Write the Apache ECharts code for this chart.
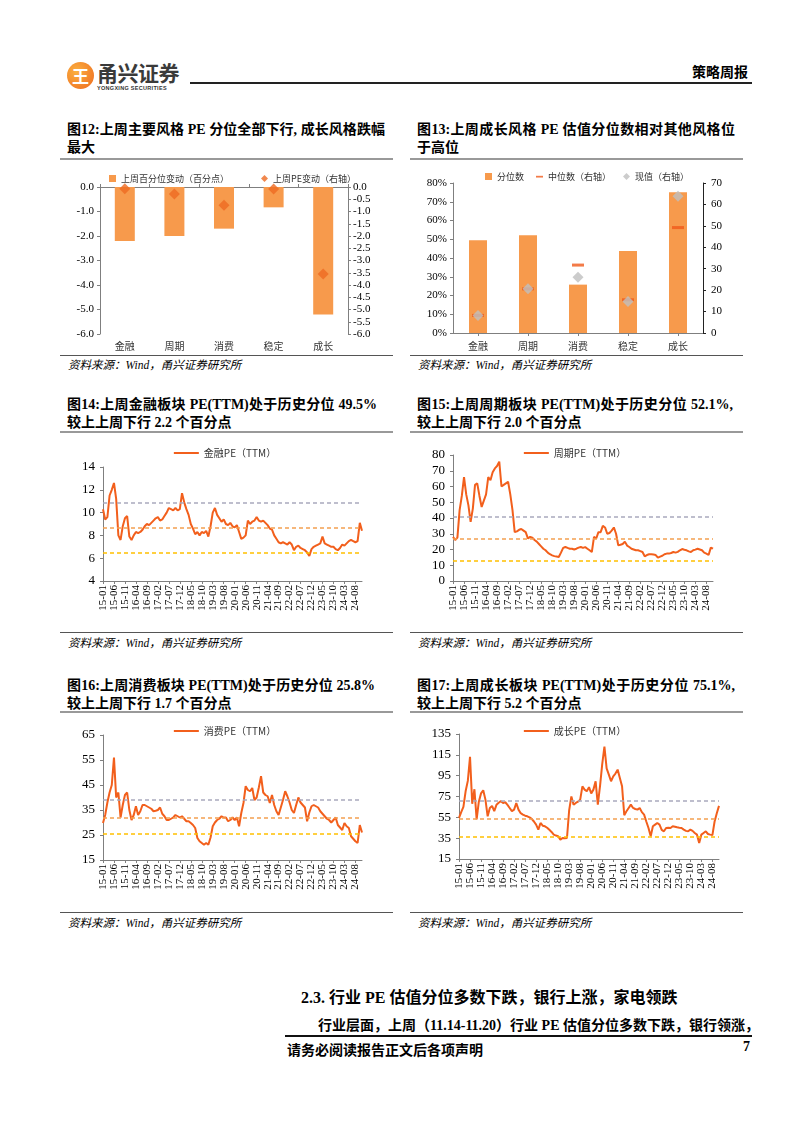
<!DOCTYPE html>
<html><head><meta charset="utf-8">
<script src="https://cdn.jsdelivr.net/npm/echarts@6/dist/echarts.min.js"></script>
<style>
html,body{margin:0;padding:0;background:#fff;}
body{width:802px;height:1133px;position:relative;overflow:hidden;font-family:"Liberation Serif","Noto Sans CJK SC",serif;color:#000;}
.a{position:absolute;}
.t{position:absolute;font-size:14px;font-weight:bold;line-height:18px;white-space:nowrap;}
.j{text-align:justify;text-align-last:justify;white-space:normal;}
.src{position:absolute;font-size:11.5px;font-style:italic;white-space:nowrap;}
.ln{position:absolute;}
.ch{position:absolute;}
</style></head><body>
<!-- header -->
<div class="a" style="left:67px;top:62px;width:27px;height:27px;border-radius:50%;background:radial-gradient(circle at 35% 35%,#FBB040,#EE6A1E);"></div>
<div class="a" style="left:67px;top:62px;width:27px;height:27px;line-height:27px;text-align:center;color:#fff;font-weight:bold;font-size:17px;font-family:'Noto Sans CJK SC';">王</div>
<div class="a" style="left:97px;top:60px;font-size:21px;font-weight:bold;color:#3a3a3a;font-family:'Noto Sans CJK SC';letter-spacing:-0.5px;line-height:24px;">甬兴证券</div>
<div class="a" style="left:97px;top:85px;font-size:5.5px;font-weight:bold;color:#333;font-family:'Liberation Sans';letter-spacing:0.3px;">YONGXING SECURITIES</div>
<div class="ln" style="left:190px;top:82px;width:562px;height:2px;background:#222;"></div>
<div class="a" style="left:692px;top:61px;font-size:14px;font-weight:bold;">策略周报</div>

<!-- fig 12 / 13 titles -->
<div class="t" style="left:67px;top:121px;"><div class="j" style="width:318px;">图12:上周主要风格 PE 分位全部下行, 成长风格跌幅</div><div>最大</div></div>
<div class="ln" style="left:60px;top:158px;width:333px;height:2px;background:#999;"></div>
<div class="t" style="left:417px;top:121px;"><div class="j" style="width:318px;">图13:上周成长风格 PE 估值分位数相对其他风格位</div><div>于高位</div></div>
<div class="ln" style="left:410px;top:158px;width:333px;height:2px;background:#999;"></div>
<div id="c12" class="ch" style="left:60px;top:160px;width:340px;height:195px;"></div>
<div id="c13" class="ch" style="left:410px;top:160px;width:340px;height:195px;"></div>
<div class="ln" style="left:60px;top:355px;width:333px;height:1px;background:#555;"></div>
<div class="ln" style="left:410px;top:355px;width:333px;height:1px;background:#555;"></div>
<div class="src" style="left:68px;top:356px;">资料来源：Wind，甬兴证券研究所</div>
<div class="src" style="left:418px;top:356px;">资料来源：Wind，甬兴证券研究所</div>

<!-- fig 14 / 15 -->
<div class="t" style="left:67px;top:396px;"><div class="j" style="width:310px;">图14:上周金融板块 PE(TTM)处于历史分位 49.5%</div><div>较上上周下行 2.2 个百分点</div></div>
<div class="ln" style="left:60px;top:431px;width:333px;height:2px;background:#999;"></div>
<div class="t" style="left:417px;top:396px;"><div class="j" style="width:316px;">图15:上周周期板块 PE(TTM)处于历史分位 52.1%,</div><div>较上上周下行 2.0 个百分点</div></div>
<div class="ln" style="left:410px;top:431px;width:333px;height:2px;background:#999;"></div>
<div id="c14" class="ch" style="left:60px;top:440px;width:330px;height:185px;"></div>
<div id="c15" class="ch" style="left:410px;top:440px;width:330px;height:185px;"></div>
<div class="ln" style="left:60px;top:632px;width:333px;height:1px;background:#555;"></div>
<div class="ln" style="left:410px;top:632px;width:333px;height:1px;background:#555;"></div>
<div class="src" style="left:68px;top:634px;">资料来源：Wind，甬兴证券研究所</div>
<div class="src" style="left:418px;top:634px;">资料来源：Wind，甬兴证券研究所</div>

<!-- fig 16 / 17 -->
<div class="t" style="left:67px;top:677px;"><div class="j" style="width:308px;">图16:上周消费板块 PE(TTM)处于历史分位 25.8%</div><div>较上上周下行 1.7 个百分点</div></div>
<div class="ln" style="left:60px;top:711px;width:333px;height:2px;background:#999;"></div>
<div class="t" style="left:417px;top:677px;"><div class="j" style="width:318px;">图17:上周成长板块 PE(TTM)处于历史分位 75.1%,</div><div>较上上周下行 5.2 个百分点</div></div>
<div class="ln" style="left:410px;top:711px;width:333px;height:2px;background:#999;"></div>
<div id="c16" class="ch" style="left:60px;top:718px;width:330px;height:190px;"></div>
<div id="c17" class="ch" style="left:410px;top:718px;width:330px;height:190px;"></div>
<div class="ln" style="left:60px;top:912px;width:333px;height:1px;background:#555;"></div>
<div class="ln" style="left:410px;top:912px;width:333px;height:1px;background:#555;"></div>
<div class="src" style="left:68px;top:914px;">资料来源：Wind，甬兴证券研究所</div>
<div class="src" style="left:418px;top:914px;">资料来源：Wind，甬兴证券研究所</div>

<!-- section text -->
<div class="a" style="left:301px;top:984px;font-size:16px;font-weight:bold;white-space:nowrap;">2.3. 行业 PE 估值分位多数下跌，银行上涨，家电领跌</div>
<div class="a" style="left:318px;top:1014px;font-size:14px;font-weight:bold;white-space:nowrap;width:432px;text-align:justify;text-align-last:justify;">行业层面，上周（11.14-11.20）行业 PE 估值分位多数下跌，银行领涨，</div>
<div class="ln" style="left:285px;top:1035px;width:467px;height:1.5px;background:#111;"></div>
<div class="a" style="left:287px;top:1039px;font-size:14px;font-weight:bold;white-space:nowrap;">请务必阅读报告正文后各项声明</div>
<div class="a" style="left:743px;top:1039px;font-size:14px;font-weight:bold;">7</div>

<script>
// ---------------- data ----------------
const styles = ['金融','周期','消费','稳定','成长'];
// Fig 12
const pctChange = [-2.2, -2.0, -1.7, -0.83, -5.2];      // 上周百分位变动（百分点）
const peChange  = [-0.07, -0.29, -0.74, -0.08, -3.55];  // 上周PE变动（右轴）
// Fig 13
const pctRank = [0.495, 0.521, 0.258, 0.437, 0.751];    // 分位数
const medianPE = [8.2, 20.6, 31.7, 15.5, 49.2];         // 中位数（右轴）
const currentPE = [8.2, 20.6, 26.0, 14.7, 63.8];        // 现值（右轴）

// monthly tick labels 15-01 ... 24-11
const months = [];
for (let y = 15; y <= 24; y++) for (let m = 1; m <= 12; m++) { if (y === 24 && m > 11) break; months.push(y + '-' + String(m).padStart(2, '0')); }

const finPE = [
10.3,9.4,9.6,11.5,12.0,12.6,11.2,8.0,7.6,8.8,
9.5,9.7,7.9,7.6,8.0,8.3,8.2,8.3,8.5,8.8,
9.0,8.9,9.1,9.3,9.5,9.6,9.3,9.4,9.7,10.0,
10.4,10.3,10.2,10.4,10.2,10.3,11.7,10.9,10.3,9.8,
9.0,8.6,8.1,8.3,8.0,8.3,8.2,8.4,7.9,8.8,
10.0,10.4,9.8,9.5,9.2,9.4,9.0,8.9,9.1,8.8,
8.7,8.9,8.3,7.7,7.8,8.0,9.3,9.0,9.2,9.3,
9.6,9.3,9.2,9.3,9.1,8.9,8.6,8.5,8.0,7.7,
7.4,7.3,7.4,7.3,7.2,7.4,7.2,6.7,7.0,7.1,
6.9,6.8,6.7,6.5,6.2,6.8,7.0,7.1,7.2,7.3,
7.9,7.3,7.2,7.1,7.0,7.0,6.8,6.7,6.9,7.2,
7.1,7.3,7.5,7.6,7.5,7.4,7.5,9.1,8.4];
const finLines = [10.9, 8.7, 6.5];

const cycPE = [
28,26,27.5,45,54,66,55,48,37.5,46,
61,62,54,47,51,55,66,64,69,71.5,
73,75.8,60,61,62,63,55,45,31,31.5,
32.5,33,32,31,27,28,27.5,26,25,23.5,
22,20.5,19.5,18,17,16.3,15.8,15.5,15.2,18,
21,21.6,21,20.5,20.5,20,20.5,21.2,21.6,21,
21.5,20.5,19.5,18.4,28,27,31,31,35,34,
30,30.5,32,34,30,22.7,23,23.5,25,22.5,
21.6,20.5,20,19.5,19.5,19,18.4,15.7,16.5,17,
17,16.8,16.5,14.8,15.5,16,17,17.4,17.4,17.8,
18.4,18,18.5,19.5,20.3,19.8,19.5,18.8,18.4,19.5,
19.9,20.5,20,19.5,18,17.4,16.5,21.2,20.5];
const cycLines = [40.5, 26.7, 12.7];

const consPE = [
29.8,33,38,42,45,56,40,42,32,37,
41,42,35,31,33,36.5,33,34.5,37,37,
36.5,36,35.5,34.5,34.7,35,36,33.5,32.5,31,
31,31.5,32,33,32.5,32,32.5,31.5,30.5,30.5,
29.8,29,27.8,23.8,22.5,21.8,21.1,21.8,21.1,24,
28.5,30,31,31.5,32.5,32,32,30.5,31,32,
31,32,28.5,33.8,37.8,44.5,43,42.5,43.8,39,
40,44,48.5,42,41,40.5,37.8,41,37,34.5,
33,36,39,42.5,40.5,38,35,33.8,37,40,
38,37,36,30.5,34,36.5,37,36.5,36,34.5,
33.5,32.5,31.5,31,30,31,32,29,28,27,
29.8,28.5,27.8,24.5,23.5,22.5,21.8,29,26];
const consLines = [39.0, 32.1, 25.4];

const groPE = [
54.4,60,65,80,90,113,68,82,53,70,
78,81,72,56,64,66,61,67,69,70.5,
68.8,69.5,67,64,61,62.4,68.8,62.4,59,57.6,
56.6,56,55,53.5,51,48,43.2,49.6,47,46.4,
45,43,41,38.4,37.5,36.8,33.6,35.2,35,35.2,
62,75,67,68.8,70,72,84.8,81.6,80,84,
78,81.6,89.6,67.2,85,106,123,102,96,89.6,
94.4,97,100.8,92.8,84.8,57,60.8,64,67.2,64,
63,62.4,64,60,57.6,51,44.8,36.8,46.4,48,
49.6,48,43,41.6,44.8,45,44.8,46.4,46,45.4,
45,44.8,43.2,42,41.6,43.2,42,40,38.4,30.4,
38.4,40,41.6,39,38.4,38,51,59,66];
const groLines = [71.3, 53.7, 36.1];

// ---------------- styles ----------------
const FONT = '"Liberation Serif","Noto Sans CJK SC",serif';
const CN = '"Noto Sans CJK SC","Liberation Serif",sans-serif';
const BAR = '#F79A4C';
const LINE = '#F25F1C';
const REFC = ['#A9A9BD', '#F4A050', '#FFC000'];
const AX = '#7f7f7f';

// ---------------- Fig 12 ----------------
echarts.init(document.getElementById('c12')).setOption({
  animation: false,
  legend: {
    top: 9, left: 44, itemGap: 32, itemWidth: 7, itemHeight: 7,
    textStyle: { fontSize: 9, fontFamily: CN, color: '#333' },
    data: [{ name: '上周百分位变动（百分点）', icon: 'rect' }, { name: '上周PE变动（右轴）', icon: 'diamond' }]
  },
  grid: { left: 40, right: 52, top: 27, height: 147 },
  xAxis: [
    { type: 'category', data: styles, position: 'bottom',
      axisLine: { show: false, onZero: false }, axisTick: { show: false },
      axisLabel: { fontSize: 10, fontFamily: CN, color: '#333', margin: 7 } },
    { type: 'category', data: styles, position: 'top',
      axisLine: { show: true, onZero: false, lineStyle: { color: AX } },
      axisTick: { show: true, length: 3, lineStyle: { color: AX } }, axisLabel: { show: false } }
  ],
  yAxis: [
    { type: 'value', min: -6, max: 0, interval: 1, splitLine: { show: false },
      axisLine: { show: true, lineStyle: { color: AX } }, axisTick: { show: true, length: 3, lineStyle: { color: AX } },
      axisLabel: { formatter: v => v.toFixed(1), fontSize: 11, fontFamily: FONT, color: '#000', margin: 6 } },
    { type: 'value', min: -6, max: 0, interval: 0.5, position: 'right', splitLine: { show: false },
      axisLine: { show: true, lineStyle: { color: AX } }, axisTick: { show: true, length: 3, lineStyle: { color: AX } },
      axisLabel: { formatter: v => v.toFixed(1), fontSize: 11, fontFamily: FONT, color: '#000', margin: 5 } }
  ],
  series: [
    { type: 'bar', name: '上周百分位变动（百分点）', data: pctChange, barWidth: 20, itemStyle: { color: BAR } },
    { type: 'scatter', name: '上周PE变动（右轴）', yAxisIndex: 1, data: peChange, symbol: 'diamond', symbolSize: 11, itemStyle: { color: '#EE6A22' } }
  ]
});

// ---------------- Fig 13 ----------------
const dashIcon = 'path://M0,0 L0,0 M10,10 L10,10 M0,4 L10,4 L10,6.5 L0,6.5 Z';
echarts.init(document.getElementById('c13')).setOption({
  animation: false,
  legend: {
    top: 7, left: 70, itemGap: 12, itemWidth: 7, itemHeight: 7,
    textStyle: { fontSize: 9, fontFamily: CN, color: '#333' },
    data: [{ name: '分位数', icon: 'rect' }, { name: '中位数（右轴）', icon: dashIcon }, { name: '现值（右轴）', icon: 'diamond' }]
  },
  grid: { left: 43, right: 47, top: 23, height: 150 },
  xAxis: { type: 'category', data: styles,
    axisLine: { show: true, lineStyle: { color: AX } },
    axisTick: { show: true, alignWithLabel: true, length: 3, lineStyle: { color: AX } },
    axisLabel: { fontSize: 10, fontFamily: CN, color: '#333', margin: 8 } },
  yAxis: [
    { type: 'value', min: 0, max: 0.8, interval: 0.1, splitLine: { show: false },
      axisLine: { show: true, lineStyle: { color: AX } }, axisTick: { show: true, length: 3, lineStyle: { color: AX } },
      axisLabel: { formatter: v => Math.round(v * 100) + '%', fontSize: 11, fontFamily: FONT, color: '#000', margin: 6 } },
    { type: 'value', min: 0, max: 70, interval: 10, position: 'right', splitLine: { show: false },
      axisLine: { show: true, lineStyle: { color: '#222' } }, axisTick: { show: true, length: 3, lineStyle: { color: '#222' } },
      axisLabel: { fontSize: 11, fontFamily: FONT, color: '#000', margin: 8 } }
  ],
  series: [
    { type: 'bar', name: '分位数', data: pctRank, barWidth: 18, itemStyle: { color: BAR } },
    { type: 'scatter', name: '中位数（右轴）', yAxisIndex: 1, data: medianPE, symbol: 'rect', symbolSize: [12, 3], itemStyle: { color: '#F05A1A' } },
    { type: 'scatter', name: '现值（右轴）', yAxisIndex: 1, data: currentPE, symbol: 'diamond', symbolSize: 11, itemStyle: { color: '#BFBFBF' } }
  ]
});

// ---------------- PE line charts ----------------
function lineChart(id, name, data, refs, yMin, yMax, yInt, grid, legendTop) {
  echarts.init(document.getElementById(id)).setOption({
    animation: false,
    legend: { top: legendTop, left: 'center', itemWidth: 25, itemHeight: 2, icon: 'rect',
      textStyle: { fontSize: 10, fontFamily: CN, color: '#333' }, data: [name] },
    grid: grid,
    xAxis: { type: 'category', data: months, boundaryGap: false,
      axisLine: { show: true, lineStyle: { color: AX } },
      axisTick: { show: true, interval: 4, length: 3, lineStyle: { color: AX } },
      axisLabel: { interval: 4, rotate: 90, fontSize: 11, fontFamily: FONT, color: '#000', margin: 4 } },
    yAxis: { type: 'value', min: yMin, max: yMax, interval: yInt, splitLine: { show: false },
      axisLine: { show: true, lineStyle: { color: AX } }, axisTick: { show: true, length: 3, lineStyle: { color: AX } },
      axisLabel: { fontSize: 13, fontFamily: FONT, color: '#000', margin: 8 } },
    series: [{
      type: 'line', name: name, data: data, showSymbol: false, symbol: 'none',
      lineStyle: { color: LINE, width: 2 }, itemStyle: { color: LINE },
      markLine: { silent: true, symbol: 'none', label: { show: false },
        data: refs.map((v, i) => ({ yAxis: v, lineStyle: { color: REFC[i], type: [4, 3], width: 1.5 } })) }
    }]
  });
}
lineChart('c14', '金融PE（TTM）', finPE, finLines, 4, 14, 2, { left: 43, right: 28, top: 27, height: 114 }, 3);
lineChart('c15', '周期PE（TTM）', cycPE, cycLines, 0, 80, 10, { left: 43, right: 27, top: 15, height: 126 }, 3);
lineChart('c16', '消费PE（TTM）', consPE, consLines, 15, 65, 10, { left: 43, right: 28, top: 17, height: 125 }, 3);
lineChart('c17', '成长PE（TTM）', groPE, groLines, 15, 135, 20, { left: 49, right: 21, top: 16, height: 125 }, 3);
</script>
</body></html>
